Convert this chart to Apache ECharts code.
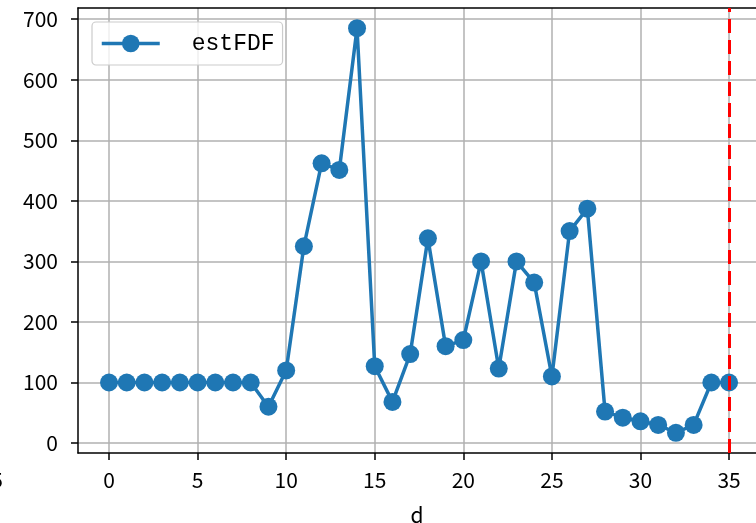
<!DOCTYPE html>
<html><head><meta charset="utf-8">
<script src="https://cdn.jsdelivr.net/npm/echarts@6/dist/echarts.min.js"></script>
<style>html,body{margin:0;padding:0;background:#fff}#c{width:756px;height:523px}</style>
</head><body><div id="c"></div>
<script>
const dValues = [0,1,2,3,4,5,6,7,8,9,10,11,12,13,14,15,16,17,18,19,20,21,22,23,24,25,26,27,28,29,30,31,32,33,34,35];
const estFDF = [100,100,100,100,100,100,100,100,100,60,120,325,462,451,685,127,68,147,338,160,170,300,123,300,265,110,350,387,52,42,36,30,17,30,100,100];
const xTicks = [0,5,10,15,20,25,30,35];
const yTicks = [0,100,200,300,400,500,600,700];
const vLineX = 35;

const chart = echarts.init(document.getElementById('c'));
const tickFont = {fontFamily:'Noto Sans CJK SC', fontSize:21, color:'#000'};
chart.setOption({
  animation:false,
  grid:{left:78, top:8, right:0, bottom:70, show:false, containLabel:false, outerBoundsMode:'none'},
  legend:{
    left:92, top:22, orient:'vertical',
    data:['estFDF'],
    itemWidth:58, itemHeight:22,
    padding:[10,8,10,8],
    borderColor:'#cccccc', borderWidth:1.2, borderRadius:4, backgroundColor:'rgba(255,255,255,0.8)',
    lineStyle:{width:3.5},
    textStyle:{fontFamily:'Liberation Mono', fontSize:23, color:'#000', padding:[0,0,0,27]}
  },
  xAxis:[{
    type:'value', min:-1.75, max:36.52,
    name:'d', nameLocation:'middle', nameGap:52,
    nameTextStyle:{fontFamily:'Noto Sans CJK SC', fontSize:21, color:'#000'},
    axisLine:{show:true, onZero:false, lineStyle:{color:'#000', width:1.5}},
    axisTick:{show:true, length:7, customValues:xTicks, lineStyle:{color:'#000', width:1.5}},
    axisLabel:{customValues:xTicks, margin:17, ...tickFont},
    splitLine:{show:true, lineStyle:{color:'#b0b0b0', width:1.5}}
  },{
    type:'value', min:-1.75, max:36.52, position:'top',
    axisLine:{show:true, onZero:false, lineStyle:{color:'#000', width:1.5}},
    axisTick:{show:false}, axisLabel:{show:false}, splitLine:{show:false}
  }],
  yAxis:{
    type:'value', min:-16.4, max:718.4,
    axisLine:{show:true, onZero:false, lineStyle:{color:'#000', width:1.5}},
    axisTick:{show:true, length:7, customValues:yTicks, lineStyle:{color:'#000', width:1.5}},
    axisLabel:{customValues:yTicks, margin:20, ...tickFont},
    splitLine:{show:true, lineStyle:{color:'#b0b0b0', width:1.5}}
  },
  graphic:[{type:'text', x:3, y:470, style:{text:'5', align:'right', verticalAlign:'top', font:'21px "Noto Sans CJK SC"', fill:'#000'}}],
  series:[{
    name:'estFDF', type:'line',
    data:dValues.map((d,i)=>[d, estFDF[i]]),
    symbol:'circle', symbolSize:18,
    itemStyle:{color:'#1f77b4'},
    lineStyle:{color:'#1f77b4', width:3.5},
    emphasis:{disabled:true},
    z:3,
    markLine:{
      silent:true, symbol:'none', label:{show:false}, z:10,
      lineStyle:{color:'#ff0000', width:3, type:[14,7]},
      data:[{xAxis:vLineX}]
    }
  }]
});
</script></body></html>
